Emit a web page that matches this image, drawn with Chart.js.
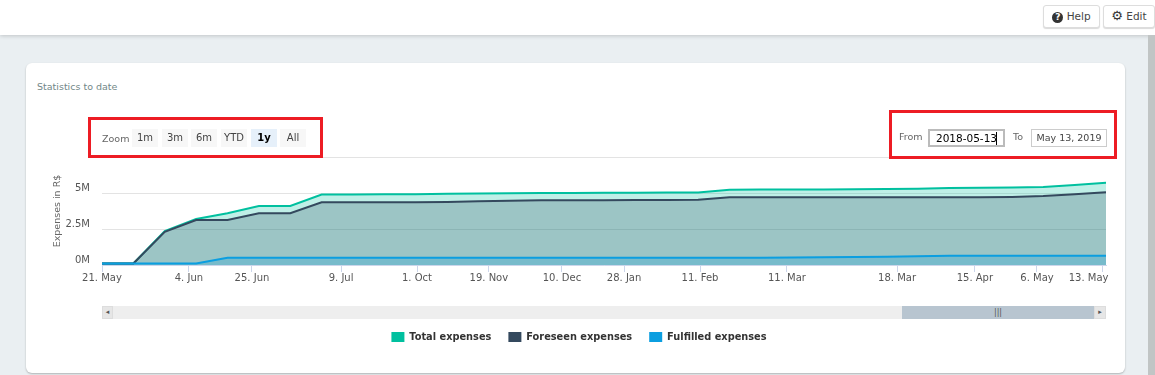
<!DOCTYPE html>
<html>
<head>
<meta charset="utf-8">
<title>Statistics to date</title>
<script src="https://cdn.jsdelivr.net/npm/chart.js@4"></script>
<style>
html, body { margin: 0; padding: 0; width: 1155px; height: 375px; overflow: hidden; background: #eaeff2; font-family: "DejaVu Sans", sans-serif; }
.abs { position: absolute; box-sizing: border-box; }
#topbar { left: 0; top: 0; width: 1155px; height: 35px; background: #fff; box-shadow: 0 1px 4px rgba(0,0,0,.18); }
#pagebar { left: 1148px; top: 35px; width: 7px; height: 340px; background: #c1c5c5; }
.topbtn { top: 5px; height: 23px; background: #fff; border: 1px solid #ddd; border-radius: 3px; box-shadow: 0 1px 1px rgba(0,0,0,.15); font-size: 10.5px; color: #444; line-height: 21px; text-align: center; }
.q { display: inline-block; width: 11px; height: 11px; border-radius: 6px; background: #333; color: #fff; font-size: 9px; font-weight: bold; line-height: 11px; vertical-align: 0; }
.gear { font-size: 13px; color: #333; line-height: 13px; }
#card { left: 26px; top: 63px; width: 1099px; height: 310px; background: #fff; border-radius: 6px; box-shadow: 0 1px 2px rgba(0,0,0,.25); }
#title { left: 37px; top: 81px; font-size: 9.5px; color: #728888; }
#wrap { left: 0; top: 0; width: 1155px; height: 352px; }
.red { border: 3px solid #ed1c24; }
.zb { top: 129px; width: 26px; height: 18px; background: #f7f7f7; font-size: 10px; color: #444; line-height: 17px; text-align: center; }
.lbl { font-size: 9.5px; color: #666; }
.inp { top: 129px; height: 18px; background: #fff; font-size: 9.5px; text-align: center; line-height: 16px; color: #444; }
</style>
</head>
<body>
<div class="abs" id="topbar"></div>
<div class="abs" id="pagebar"></div>
<div class="abs topbtn" style="left:1043px;width:57px"><span class="q">?</span> Help</div>
<div class="abs topbtn" style="left:1103px;width:52px"><span class="gear">&#9881;</span> Edit</div>
<div class="abs" id="card"></div>
<div class="abs" id="title">Statistics to date</div>
<div class="abs" id="wrap"><canvas id="statsChart" width="1155" height="352"></canvas></div>

<div class="abs red" style="left:88px;top:117px;width:235px;height:41px"></div>
<div class="abs lbl" style="left:102px;top:133px">Zoom</div>
<div class="abs zb" style="left:132px">1m</div>
<div class="abs zb" style="left:162px">3m</div>
<div class="abs zb" style="left:191px">6m</div>
<div class="abs zb" style="left:221px">YTD</div>
<div class="abs zb" style="left:251px;background:#e6f0fa;font-weight:bold;color:#000">1y</div>
<div class="abs zb" style="left:280px">All</div>

<div class="abs red" style="left:889px;top:110px;width:228px;height:49px"></div>
<div class="abs lbl" style="left:899px;top:131px">From</div>
<div class="abs inp" style="left:928px;width:77px;border:2px solid #bbb;color:#000;line-height:15px;font-size:10.5px">2018-05-13</div>
<div class="abs" style="left:996px;top:132px;width:1px;height:13px;background:#000"></div>
<div class="abs lbl" style="left:1013px;top:131px">To</div>
<div class="abs inp" style="left:1031px;width:76px;border:1px solid #ccc">May 13, 2019</div>

<div class="abs" style="left:102px;top:306px;width:1004px;height:13px;background:#eee"></div>
<div class="abs" style="left:102px;top:306px;width:11px;height:13px;background:#e6e6e6;border:1px solid #ddd;font-size:7px;line-height:11px;text-align:center;color:#555">&#9666;</div>
<div class="abs" style="left:902px;top:306px;width:192px;height:13px;background:#b8c5d0;font-size:8px;line-height:13px;text-align:center;color:#555">|||</div>
<div class="abs" style="left:1094px;top:306px;width:12px;height:13px;background:#e6e6e6;border:1px solid #ddd;font-size:7px;line-height:11px;text-align:center;color:#555">&#9656;</div>

<script>
const pointIndex = [0,1,2,3,4,5,6,7,8,9,10,11,12,13,14,15,16,17,18,19,20,21,22,23,24,25,26,27,28,29,30,31,32];
const totalExpenses = [0.1,0.1,2.36,3.19,3.59,4.1,4.1,4.89,4.9,4.91,4.92,4.94,4.96,4.98,5.0,5.0,5.01,5.02,5.03,5.04,5.23,5.24,5.24,5.25,5.26,5.27,5.3,5.35,5.37,5.39,5.42,5.56,5.72];
const foreseenExpenses = [0.1,0.1,2.3,3.12,3.12,3.59,3.59,4.35,4.35,4.35,4.36,4.38,4.42,4.46,4.49,4.49,4.5,4.51,4.52,4.53,4.7,4.7,4.7,4.7,4.7,4.7,4.7,4.7,4.71,4.73,4.79,4.91,5.05];
const fulfilledExpenses = [0.1,0.1,0.1,0.1,0.5,0.5,0.5,0.5,0.5,0.5,0.5,0.5,0.5,0.5,0.5,0.5,0.5,0.5,0.5,0.5,0.5,0.5,0.52,0.53,0.55,0.57,0.6,0.64,0.64,0.64,0.64,0.64,0.64];
const tickAt = [0,2.77,4.78,7.62,10.04,12.33,14.66,16.64,19.06,21.83,25.34,27.82,29.8,31.9];
const tickLabels = ["21. May","4. Jun","25. Jun","9. Jul","1. Oct","19. Nov","10. Dec","28. Jan","11. Feb","11. Mar","18. Mar","15. Apr","6. May","13. May"];

function series(values) {
    return values.map((v, i) => ({ x: pointIndex[i], y: v }));
}

const ctx = document.getElementById("statsChart");

new Chart(ctx, {
    type: "line",
    data: {
        datasets: [{
            label: "Total expenses",
            data: series(totalExpenses),
            borderColor: "#00c09f",
            backgroundColor: "rgba(0,192,159,0.25)",
            order: 3
        }, {
            label: "Foreseen expenses",
            data: series(foreseenExpenses),
            borderColor: "#34495e",
            backgroundColor: "rgba(52,73,94,0.25)",
            order: 2
        }, {
            label: "Fulfilled expenses",
            data: series(fulfilledExpenses),
            borderColor: "#0b9ee0",
            backgroundColor: "rgba(11,158,224,0.25)",
            order: 1
        }]
    },
    options: {
        responsive: false,
        animation: false,
        layout: { padding: { left: 52, top: 157, right: 49, bottom: 0 } },
        elements: {
            point: { radius: 0 },
            line: { borderWidth: 2, tension: 0, fill: "origin" }
        },
        plugins: {
            tooltip: { enabled: false },
            legend: {
                position: "bottom",
                labels: {
                    boxWidth: 13,
                    boxHeight: 10,
                    padding: 17,
                    color: "#333",
                    font: { family: "DejaVu Sans", size: 9.8, weight: "bold" },
                    generateLabels(chart) {
                        return chart.data.datasets.map((d, i) => ({
                            text: d.label,
                            fillStyle: d.borderColor,
                            strokeStyle: d.borderColor,
                            lineWidth: 0,
                            fontColor: "#333",
                            datasetIndex: i
                        }));
                    }
                }
            }
        },
        scales: {
            x: {
                type: "linear",
                min: 0,
                max: 32,
                afterBuildTicks(scale) {
                    scale.ticks = tickAt.map(value => ({ value }));
                },
                afterFit(scale) { scale.height = 50; },
                grid: { drawOnChartArea: false, color: "#ccd6eb", tickLength: 7 },
                border: { color: "#ccd6eb" },
                ticks: {
                    autoSkip: false,
                    maxRotation: 0,
                    padding: 0,
                    color: "#555",
                    font: { family: "DejaVu Sans", size: 10 },
                    callback(value, i, ticks) {
                        // last label sits left of its tick
                        return i === tickLabels.length - 1 ? tickLabels[i] + "\u00a0".repeat(9) : tickLabels[i];
                    }
                }
            },
            y: {
                min: 0,
                max: 7.5,
                afterFit(scale) { scale.width = 50; },
                border: { display: false },
                grid: { color: "#e3e3e3", tickLength: 0 },
                title: {
                    display: true,
                    text: "Expenses in R$",
                    color: "#666",
                    padding: 0,
                    font: { family: "DejaVu Sans", size: 9.5 }
                },
                ticks: {
                    stepSize: 2.5,
                    padding: 12,
                    labelOffset: -5,
                    color: "#555",
                    font: { family: "DejaVu Sans", size: 10 },
                    callback(value) {
                        return value === 7.5 ? "" : value + "M";
                    }
                }
            }
        }
    }
});
</script>
</body>
</html>
